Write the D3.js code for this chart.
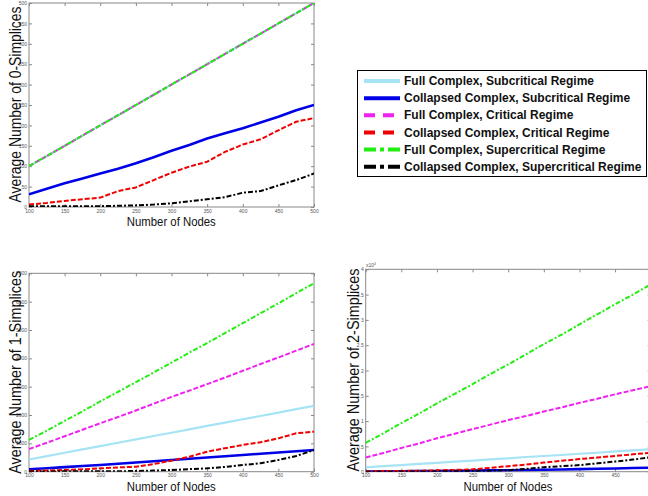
<!DOCTYPE html>
<html>
<head>
<meta charset="utf-8">
<script src="https://cdn.jsdelivr.net/npm/d3@7"></script>
<style>
  body { margin: 0; background: #fff; }
  svg { display: block; font-family: "Liberation Sans", Arial, sans-serif; }
  .tick text { fill: #555; font-size: 5px; }
  .tick line { stroke: #888; }
</style>
</head>
<body>
<svg id="chart" width="648" height="496"></svg>
<script>
// number of nodes (x values shared by every panel)
const nodes = [100, 125, 150, 175, 200, 225, 250, 275, 300, 325, 350, 375, 400, 425, 450, 475, 500];

const seriesNames = [
  "Full Complex, Subcritical Regime",
  "Collapsed Complex, Subcritical Regime",
  "Full Complex, Critical Regime",
  "Collapsed Complex, Critical Regime",
  "Full Complex, Supercritical Regime",
  "Collapsed Complex, Supercritical Regime"
];

// 0-simplices
const fullSub0   = [100, 125, 150, 175, 200, 225, 250, 275, 300, 325, 350, 375, 400, 425, 450, 475, 500];
const collSub0   = [31, 45, 58, 70, 82, 94, 107, 122, 138, 152, 168, 181, 193, 207, 221, 237, 250];
const fullCrit0  = [100, 125, 150, 175, 200, 225, 250, 275, 300, 325, 350, 375, 400, 425, 450, 475, 500];
const collCrit0  = [6, 10, 15, 19, 23, 39, 48, 66, 84, 99, 111, 135, 153, 166, 188, 209, 218];
const fullSup0   = [100, 125, 150, 175, 200, 225, 250, 275, 300, 325, 350, 375, 400, 425, 450, 475, 500];
const collSup0   = [2, 2, 2, 2, 2, 3, 4, 6, 9, 14, 19, 24, 35, 39, 53, 66, 82];

// 1-simplices
const fullSub1   = [430, 550, 670, 790, 905, 1020, 1140, 1260, 1375, 1495, 1615, 1730, 1850, 1965, 2085, 2205, 2325];
const collSub1   = [85, 120, 160, 200, 236, 280, 325, 370, 413, 455, 500, 545, 589, 635, 680, 720, 765];
const fullCrit1  = [800, 1020, 1250, 1480, 1710, 1930, 2160, 2400, 2640, 2860, 3090, 3320, 3560, 3800, 4030, 4270, 4510];
const collCrit1  = [30, 40, 59, 85, 118, 150, 176, 270, 390, 530, 706, 830, 942, 1040, 1177, 1355, 1411];
const fullSup1   = [1120, 1450, 1790, 2130, 2480, 2820, 3160, 3500, 3850, 4200, 4540, 4890, 5240, 5590, 5940, 6300, 6650];
const collSup1   = [10, 10, 12, 12, 12, 15, 25, 40, 60, 90, 118, 170, 236, 300, 413, 554, 765];

// 2-simplices (x 10^4)
const fullSub2   = [0.087, 0.11, 0.13, 0.155, 0.175, 0.2, 0.22, 0.245, 0.265, 0.29, 0.31, 0.33, 0.355, 0.375, 0.4, 0.42, 0.443];
const collSub2   = [0.005, 0.007, 0.01, 0.012, 0.015, 0.018, 0.022, 0.026, 0.03, 0.034, 0.038, 0.043, 0.05, 0.057, 0.064, 0.072, 0.08];
const fullCrit2  = [0.28, 0.37, 0.47, 0.56, 0.66, 0.75, 0.84, 0.93, 1.02, 1.10, 1.19, 1.27, 1.36, 1.44, 1.53, 1.61, 1.69];
const collCrit2  = [0.01, 0.012, 0.015, 0.02, 0.027, 0.035, 0.047, 0.075, 0.11, 0.14, 0.18, 0.215, 0.25, 0.28, 0.31, 0.345, 0.375];
const fullSup2   = [0.57, 0.76, 0.96, 1.15, 1.35, 1.54, 1.73, 1.93, 2.12, 2.32, 2.52, 2.71, 2.91, 3.11, 3.31, 3.50, 3.70];
const collSup2   = [0, 0, 0.002, 0.004, 0.006, 0.01, 0.015, 0.02, 0.03, 0.055, 0.087, 0.11, 0.13, 0.165, 0.2, 0.24, 0.285];

const xTicks = [100, 150, 200, 250, 300, 350, 400, 450, 500];
const yTicks0 = [0, 50, 100, 150, 200, 250, 300, 350, 400, 450, 500];
const yTicks1 = [0, 1000, 2000, 3000, 4000, 5000, 6000, 7000];
const yTicks2 = [0, 0.5, 1, 1.5, 2, 2.5, 3, 3.5, 4];

// line styles, same order as seriesNames
const styles = [
  {color: "#a6e4f5", width: 2.2, dash: null,      lw: 4, ldash: null},
  {color: "#0000e6", width: 2.6, dash: null,      lw: 4, ldash: null},
  {color: "#f020f0", width: 2,   dash: "5,2",     lw: 4, ldash: "11,8"},
  {color: "#f00000", width: 2,   dash: "5,2",     lw: 4, ldash: "11,8"},
  {color: "#22ee11", width: 2,   dash: "5,2,2,2", lw: 4, ldash: "12,4,4,4"},
  {color: "#000000", width: 2,   dash: "5,2,2,2", lw: 4, ldash: "12,4,4,4"}
];

const W = 648;
const svg = d3.select("#chart");

function drawPanel(p) {
  const x = d3.scaleLinear().domain([100, 500]).range([p.left, p.right]);
  const y = d3.scaleLinear().domain([0, p.yMax]).range([p.bottom, p.top]);

  const clipId = "clip" + p.id;
  svg.append("clipPath").attr("id", clipId)
    .append("rect")
    .attr("x", p.left).attr("y", p.top)
    .attr("width", p.right - p.left).attr("height", p.bottom - p.top);

  // ticks on all four sides, pointing inward; labels past the page edge are dropped
  svg.append("g")
    .attr("transform", `translate(0,${p.bottom})`)
    .call(d3.axisBottom(x).tickValues(xTicks).tickSize(-3).tickPadding(2)
      .tickFormat(d => x(d) + 4 > W ? "" : d3.format("d")(d)))
    .call(g => g.select(".domain").remove());
  svg.append("g")
    .attr("transform", `translate(0,${p.top})`)
    .call(d3.axisTop(x).tickValues(xTicks).tickSize(-3).tickFormat(""))
    .call(g => g.select(".domain").remove());
  svg.append("g")
    .attr("transform", `translate(${p.left},0)`)
    .call(d3.axisLeft(y).tickValues(p.yTicks).tickSize(-3).tickPadding(2).tickFormat(p.yFormat))
    .call(g => g.select(".domain").remove());
  svg.append("g")
    .attr("transform", `translate(${p.right},0)`)
    .call(d3.axisRight(y).tickValues(p.yTicks).tickSize(-3).tickFormat(""))
    .call(g => g.select(".domain").remove());

  svg.append("rect")
    .attr("x", p.left).attr("y", p.top)
    .attr("width", p.right - p.left).attr("height", p.bottom - p.top)
    .attr("fill", "none").attr("stroke", "#888").attr("stroke-width", 1);

  const line = d3.line()
    .x((d, i) => x(nodes[i]))
    .y(d => y(d))
    .curve(d3.curveLinear);

  const g = svg.append("g").attr("clip-path", `url(#${clipId})`);
  p.series.forEach((s, i) => {
    g.append("path")
      .datum(s)
      .attr("fill", "none")
      .attr("stroke", styles[i].color)
      .attr("stroke-width", styles[i].width)
      .attr("stroke-dasharray", styles[i].dash)
      .attr("stroke-linejoin", "round")
      .attr("d", line);
  });

  // axis titles
  svg.append("text")
    .attr("transform", `translate(${p.yTitleX},${p.yTitleY}) rotate(-90)`)
    .attr("text-anchor", "middle")
    .attr("font-size", 16)
    .attr("fill", "#111")
    .attr("textLength", p.yTitleLen)
    .attr("lengthAdjust", "spacingAndGlyphs")
    .text(p.yTitle);
  svg.append("text")
    .attr("x", p.xTitleX).attr("y", p.xTitleY)
    .attr("text-anchor", "middle")
    .attr("font-size", 13.5)
    .attr("fill", "#111")
    .attr("textLength", 89)
    .attr("lengthAdjust", "spacingAndGlyphs")
    .text("Number of Nodes");
  return {x, y};
}

drawPanel({
  id: 0, left: 29, right: 314, top: 3, bottom: 207, yMax: 500,
  yTicks: yTicks0, yFormat: d3.format("d"),
  series: [fullSub0, collSub0, fullCrit0, collCrit0, fullSup0, collSup0],
  yTitle: "Average Number of 0-Simplices", yTitleX: 20.5, yTitleY: 104.5, yTitleLen: 196,
  xTitleX: 171.3, xTitleY: 226
});

drawPanel({
  id: 1, left: 29, right: 314, top: 273.3, bottom: 471.7, yMax: 7000,
  yTicks: yTicks1, yFormat: d3.format("d"),
  series: [fullSub1, collSub1, fullCrit1, collCrit1, fullSup1, collSup1],
  yTitle: "Average Number of 1-Simplices", yTitleX: 20.5, yTitleY: 372.3, yTitleLen: 203,
  xTitleX: 171.3, xTitleY: 491
});

drawPanel({
  id: 2, left: 365.7, right: 650.7, top: 269.3, bottom: 471.7, yMax: 4,
  yTicks: yTicks2, yFormat: d => String(d),
  series: [fullSub2, collSub2, fullCrit2, collCrit2, fullSup2, collSup2],
  yTitle: "Average Number of 2-Simplices", yTitleX: 359, yTitleY: 370, yTitleLen: 203,
  xTitleX: 508, xTitleY: 491
});

// exponent label of the 2-simplices panel
const expo = svg.append("text")
  .attr("x", 366).attr("y", 266.5)
  .attr("font-size", 5).attr("fill", "#555")
  .text("x10");
expo.append("tspan").attr("dy", -2).attr("font-size", 3.5).text("4");

// legend
const leg = svg.append("g");
leg.append("rect")
  .attr("x", 357.5).attr("y", 70.5)
  .attr("width", 289).attr("height", 106)
  .attr("fill", "#fff").attr("stroke", "#000").attr("stroke-width", 1);

const rowY = d3.scalePoint().domain(seriesNames).range([81, 166.7]);
seriesNames.forEach((name, i) => {
  const yy = rowY(name);
  leg.append("line")
    .attr("x1", 364).attr("x2", 400)
    .attr("y1", yy).attr("y2", yy)
    .attr("stroke", styles[i].color)
    .attr("stroke-width", styles[i].lw)
    .attr("stroke-dasharray", styles[i].ldash);
  leg.append("text")
    .attr("x", 404).attr("y", yy + 4.2)
    .attr("font-size", 12)
    .attr("font-weight", "bold")
    .attr("fill", "#111")
    .text(name);
});
</script>
</body>
</html>
